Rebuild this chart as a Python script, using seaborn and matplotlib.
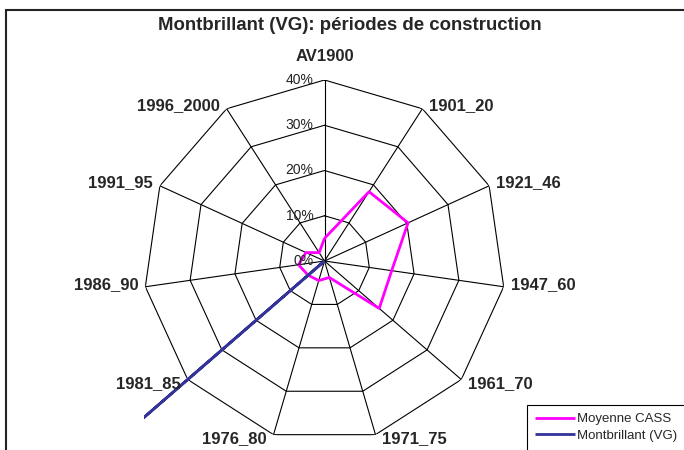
import numpy as np
import pandas as pd
import matplotlib
matplotlib.use("Agg")
import matplotlib.pyplot as plt
import seaborn as sns
from matplotlib.patches import Rectangle

# ---- data ----
categories = ["AV1900", "1901_20", "1921_46", "1947_60", "1961_70", "1971_75",
              "1976_80", "1981_85", "1986_90", "1991_95", "1996_2000"]
moyenne_cass = [5.0, 18.2, 20.3, 15.0, 16.0, 3.8, 4.5, 4.8, 5.8, 4.5, 2.2]
montbrillant_vg = [0, 0, 0, 0, 0, 0, 0, 100, 0, 0, 0]
series_names = ["Moyenne CASS", "Montbrillant (VG)"]
radial_ticks = [0, 10, 20, 30, 40]
radial_tick_labels = ["0%", "10%", "20%", "30%", "40%"]
title = "Montbrillant (VG): périodes de construction"

# ---- style ----
sns.set_theme(style="white")
plt.rcParams['font.family'] = ['Liberation Sans', 'DejaVu Sans']

W, H = 684, 450
fig = plt.figure(figsize=(W / 100, H / 100), dpi=100, facecolor='white')
cx, cy, R = 324.5, 261, 181
ax = fig.add_axes([(cx - R) / W, (H - cy - R) / H, 2 * R / W, 2 * R / H],
                  projection='polar')
ax.set_theta_zero_location('N')
ax.set_theta_direction(-1)

n = len(categories)
angles = np.arange(n) * 2 * np.pi / n
theta_closed = np.append(angles, angles[0] + 2 * np.pi)
rmax = radial_ticks[-1] / 100

# polygon grid
for v in radial_ticks[1:]:
    ax.plot(theta_closed, [v / 100] * (n + 1), color='black', lw=0.8, zorder=1)
for a in angles:
    ax.plot([a, a], [0, rmax], color='black', lw=0.8, zorder=1)

# data series
colors = ["#FF00FF", "#333399"]
for name, vals, col in zip(series_names, [moyenne_cass, montbrillant_vg], colors):
    r = np.array(vals + [vals[0]]) / 100
    sns.lineplot(x=theta_closed, y=r, ax=ax, sort=False, color=col,
                 linewidth=2.0, label=name, zorder=3)

# clip series to the square plot area (like Excel), not the circle
for line in ax.get_lines():
    if not line.get_label().startswith('_'):
        line.set_clip_path(None)
        line.set_clip_box(ax.bbox)
        line.set_solid_capstyle('butt')

ax.grid(False)
ax.set_xticks([])
ax.set_yticks([])
ax.spines['polar'].set_visible(False)
ax.set_ylim(0, rmax)
ax.patch.set_alpha(0)
ax.set_xlabel('')
ax.set_ylabel('')

# radial tick labels
for v, lab in zip(radial_ticks, radial_tick_labels):
    ax.annotate(lab, xy=(0, v / 100), xytext=(-11, 0), textcoords='offset pixels',
                ha='right', va='center', fontsize=10, color='#222222',
                annotation_clip=False)

# category labels
for a, lab in zip(angles, categories):
    s, c = np.sin(a), np.cos(a)
    if abs(s) < 1e-6:
        ax.annotate(lab, xy=(a, rmax), xytext=(0, 16), textcoords='offset pixels',
                    ha='center', va='bottom', fontsize=12, fontweight='bold',
                    annotation_clip=False)
        continue
    dx = 7 if s > 0 else -7
    if c > 0:
        dy = 3
    elif c < -0.5:
        dy = -4
    else:
        dy = 2
    ax.annotate(lab, xy=(a, rmax), xytext=(dx, dy), textcoords='offset pixels',
                ha='left' if s > 0 else 'right', va='center', fontsize=12,
                fontweight='bold', annotation_clip=False)

# title
fig.text(350 / W, 1 - 26 / H, title, ha='center', va='center',
         fontsize=13.4, fontweight='bold')

# chart frame (extends beyond the right/bottom of the image)
fig.add_artist(Rectangle((6 / W, -0.2), 1.2, 1.2 - 10 / H, transform=fig.transFigure,
                         fill=False, edgecolor='#222222', lw=1.5))

# legend box (extends beyond the right/bottom of the image) and legend
fig.add_artist(Rectangle((527 / W, -0.2), 0.4, 0.2 + (1 - 405 / H),
                         transform=fig.transFigure, fill=False,
                         edgecolor='black', lw=0.8))
handles, labels = ax.get_legend_handles_labels()
if ax.get_legend() is not None:
    ax.get_legend().remove()
fig.legend(handles, labels, loc='upper left', bbox_to_anchor=(535 / W, 1 - 413 / H),
           frameon=False, fontsize=9.5, handlelength=3.0, handletextpad=0.2,
           labelspacing=0.35, borderpad=0, borderaxespad=0)

fig.savefig('out.png', dpi=100, facecolor='white')
